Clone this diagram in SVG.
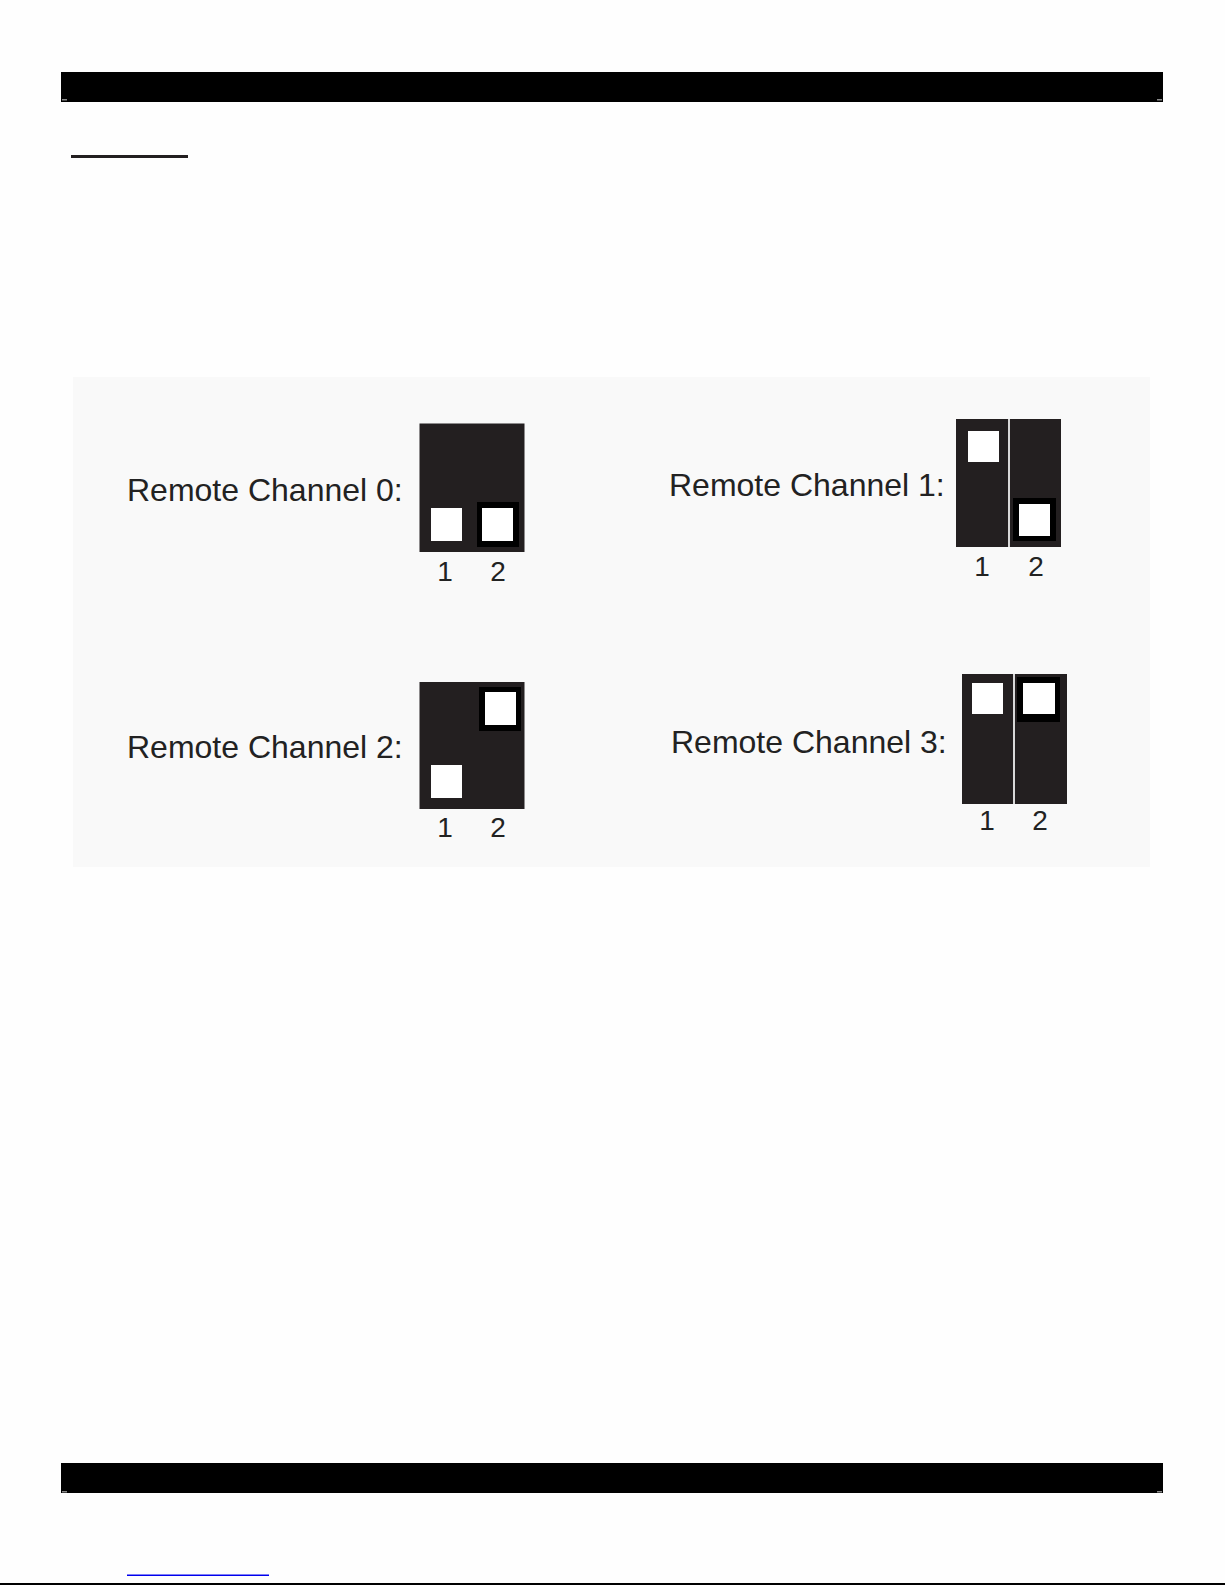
<svg xmlns="http://www.w3.org/2000/svg" width="1225" height="1585" viewBox="0 0 1225 1585">
<style>
.lbl{font-family:"Liberation Sans",Arial,sans-serif;font-size:32px;fill:#222}
.num{font-family:"Liberation Sans",Arial,sans-serif;font-size:28px;fill:#222;text-anchor:middle}
.sw{fill:#231f20}
.wh{fill:#ffffff}
.bk{fill:#000000}
.div{stroke:#d8d8d8;stroke-width:2}
.mark{fill:#8a8a8a}
</style>
<rect x="0" y="0" width="1225" height="1585" fill="#fefefe"/>
<g id="header">
<rect x="61" y="72" width="1102" height="30" fill="#000"/>
<rect class="mark" x="62" y="99" width="5" height="1.5"/>
<rect class="mark" x="1157" y="99" width="5" height="1.5"/>
</g>
<rect id="title-underline" x="71" y="155" width="117" height="3" fill="#231f20"/>
<rect id="panel" x="73" y="377" width="1077" height="490" fill="#f9f9f9"/>
<g id="ch0">
<text class="lbl" x="127" y="501">Remote Channel 0:</text>
<rect class="sw" x="419.5" y="423.5" width="105" height="128.5"/>
<rect class="wh" x="431" y="508" width="31" height="33"/>
<rect class="bk" x="477" y="502" width="42" height="45"/>
<rect class="wh" x="482" y="508" width="31" height="33"/>
<text class="num" x="445" y="581">1</text>
<text class="num" x="498" y="581">2</text>
</g>
<g id="ch1">
<text class="lbl" x="669" y="496">Remote Channel 1:</text>
<rect class="sw" x="956" y="419" width="105" height="128"/>
<line class="div" x1="1009" y1="419" x2="1009" y2="547"/>
<rect class="wh" x="968" y="431" width="31" height="31"/>
<rect class="bk" x="1013" y="498" width="43" height="43"/>
<rect class="wh" x="1019" y="504" width="31" height="32"/>
<text class="num" x="982" y="576">1</text>
<text class="num" x="1036" y="576">2</text>
</g>
<g id="ch2">
<text class="lbl" x="127" y="758">Remote Channel 2:</text>
<rect class="sw" x="419.5" y="682" width="105" height="127"/>
<rect class="wh" x="431" y="765" width="31" height="33"/>
<rect class="bk" x="479" y="687" width="42" height="44"/>
<rect class="wh" x="485" y="692" width="31" height="33"/>
<text class="num" x="445" y="837">1</text>
<text class="num" x="498" y="837">2</text>
</g>
<g id="ch3">
<text class="lbl" x="671" y="753">Remote Channel 3:</text>
<rect class="sw" x="962" y="674" width="105" height="130"/>
<line class="div" x1="1014" y1="674" x2="1014" y2="804"/>
<rect class="wh" x="972" y="683" width="31" height="31"/>
<rect class="bk" x="1017" y="677" width="43" height="45"/>
<rect class="wh" x="1023" y="683" width="32" height="31"/>
<text class="num" x="987" y="830">1</text>
<text class="num" x="1040" y="830">2</text>
</g>
<g id="connectors"></g>
<g id="footer">
<rect x="61" y="1463" width="1102" height="30" fill="#000"/>
<rect class="mark" x="62" y="1491" width="5" height="1.5"/>
<rect class="mark" x="1157" y="1491" width="5" height="1.5"/>
</g>
<rect id="link-underline" x="127" y="1574.5" width="142" height="1.5" fill="#0000ee"/>
<rect id="bottom-rule" x="0" y="1583" width="1225" height="2" fill="#000"/>
</svg>
